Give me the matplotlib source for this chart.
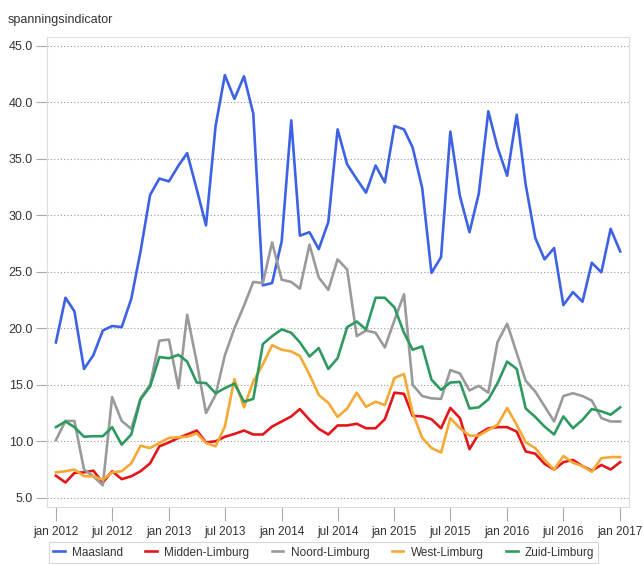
import matplotlib.pyplot as plt
import pandas as pd

plt.rcParams['font.family'] = ['Liberation Sans', 'DejaVu Sans']

# monthly values jan 2012 .. jan 2017
months = pd.date_range('2012-01-01', '2017-01-01', freq='MS')

maasland = [18.75, 22.7, 21.5, 16.4, 17.6, 19.8, 20.2, 20.1, 22.6, 26.8,
            31.8, 33.25, 33.0, 34.4, 35.5, 32.3, 29.1, 37.9, 42.4, 40.3,
            42.3, 39.0, 23.8, 24.0, 27.7, 38.4, 28.2, 28.5, 27.0, 29.4,
            37.6, 34.5, 33.2, 32.0, 34.4, 32.9, 37.9, 37.6, 36.0, 32.4,
            24.9, 26.3, 37.4, 31.7, 28.5, 31.9, 39.2, 36.0, 33.5, 38.9,
            32.7, 28.0, 26.1, 27.1, 22.05, 23.2, 22.35, 25.8, 24.95, 28.8,
            26.8]
midden = [6.95, 6.35, 7.2, 7.25, 7.4, 6.35, 7.35, 6.65, 6.9, 7.35,
          8.05, 9.55, 9.9, 10.3, 10.6, 10.95, 9.9, 10.0, 10.4, 10.65,
          10.95, 10.6, 10.6, 11.3, 11.75, 12.2, 12.85, 11.9, 11.1, 10.6,
          11.4, 11.4, 11.55, 11.15, 11.15, 11.95, 14.3, 14.2, 12.25, 12.2,
          11.95, 11.15, 12.95, 12.05, 9.3, 10.65, 11.15, 11.25, 11.25, 10.85,
          9.1, 8.9, 8.0, 7.5, 8.15, 8.35, 7.8, 7.4, 7.9, 7.5,
          8.15]
noord = [10.1, 11.8, 11.8, 7.5, 6.9, 6.1, 13.9, 11.8, 11.1, 13.8,
         15.0, 18.9, 19.0, 14.7, 21.2, 17.0, 12.5, 14.1, 17.6, 20.0,
         22.0, 24.1, 24.0, 27.6, 24.3, 24.1, 23.5, 27.4, 24.5, 23.4,
         26.1, 25.2, 19.3, 19.8, 19.6, 18.3, 20.7, 23.0, 15.0, 14.0,
         13.8, 13.75, 16.3, 16.0, 14.5, 14.9, 14.3, 18.8, 20.4, 17.8,
         15.35, 14.4, 13.1, 11.75, 14.0, 14.25, 14.0, 13.6, 12.05, 11.75,
         11.75]
west = [7.25, 7.35, 7.5, 6.9, 6.9, 6.6, 7.25, 7.35, 8.05, 9.6,
        9.4, 9.85, 10.3, 10.35, 10.4, 10.7, 9.85, 9.55, 11.3, 15.5,
        13.0, 15.3, 16.8, 18.5, 18.1, 17.95, 17.55, 15.9, 14.1, 13.4,
        12.15, 12.9, 14.3, 13.05, 13.5, 13.2, 15.6, 15.95, 12.5, 10.3,
        9.4, 9.0, 12.05, 11.15, 10.5, 10.5, 11.0, 11.45, 12.95, 11.45,
        9.9, 9.4, 8.35, 7.5, 8.7, 8.1, 7.8, 7.3, 8.5, 8.6,
        8.6]
zuid = [11.25, 11.75, 11.25, 10.4, 10.45, 10.45, 11.25, 9.7, 10.6, 13.7,
        14.85, 17.45, 17.35, 17.65, 17.05, 15.2, 15.15, 14.25, 14.7, 15.1,
        13.5, 13.75, 18.6, 19.3, 19.9, 19.6, 18.75, 17.5, 18.25, 16.4,
        17.35, 20.1, 20.6, 19.9, 22.7, 22.7, 21.85, 19.6, 18.1, 18.4,
        15.45, 14.55, 15.2, 15.25, 12.9, 13.0, 13.7, 15.15, 17.05, 16.4,
        12.9, 12.15, 11.3, 10.6, 12.2, 11.15, 11.9, 12.85, 12.65, 12.35,
        13.0]

series = [('Maasland', maasland, '#3d62e3'),
          ('Midden-Limburg', midden, '#e3161b'),
          ('Noord-Limburg', noord, '#9a9a9a'),
          ('West-Limburg', west, '#f5a935'),
          ('Zuid-Limburg', zuid, '#2e9a62')]

tick_labels = ['jan 2012', 'jul 2012', 'jan 2013', 'jul 2013', 'jan 2014', 'jul 2014',
               'jan 2015', 'jul 2015', 'jan 2016', 'jul 2016', 'jan 2017']

fig = plt.figure(figsize=(6.43, 5.65), dpi=100)
ax = fig.add_axes([0.073, 0.103, 0.905, 0.832])

for name, vals, col in series:
    ax.plot(months, vals, color=col, lw=1.9, label=name)

ax.set_ylim(4.2, 45.8)
ax.set_yticks([5, 10, 15, 20, 25, 30, 35, 40, 45])
ax.set_yticklabels(['%.1f' % v for v in ax.get_yticks()])
ax.set_xticks(months[::6])
ax.set_xticklabels(tick_labels)
ax.set_xlim(months[0] - pd.Timedelta(days=29), months[-1] + pd.Timedelta(days=28))

ax.yaxis.grid(True, linestyle=(0, (1, 2)), color='#999999', lw=0.8)
for s in ax.spines.values():
    s.set_color('#dddddd')
ax.tick_params(axis='y', length=8, color='#aaaaaa', labelsize=9, labelcolor='#333333', pad=2)
ax.tick_params(axis='x', length=10, color='#aaaaaa', labelsize=8.5, labelcolor='#333333', pad=4)

fig.text(0.012, 0.965, 'spanningsindicator', fontsize=9, color='#333333', va='center')

leg = fig.legend(loc='center left', bbox_to_anchor=(0.076, 0.022), ncol=5,
                 handlelength=1.0, columnspacing=1.9, handletextpad=0.6,
                 fontsize=8.5, frameon=True, fancybox=False, borderpad=0.35,
                 borderaxespad=0)
leg.get_frame().set_edgecolor('#cccccc')
leg.get_frame().set_linewidth(0.8)
for t in leg.get_texts():
    t.set_color('#333333')

fig.savefig('out.png', dpi=100)
